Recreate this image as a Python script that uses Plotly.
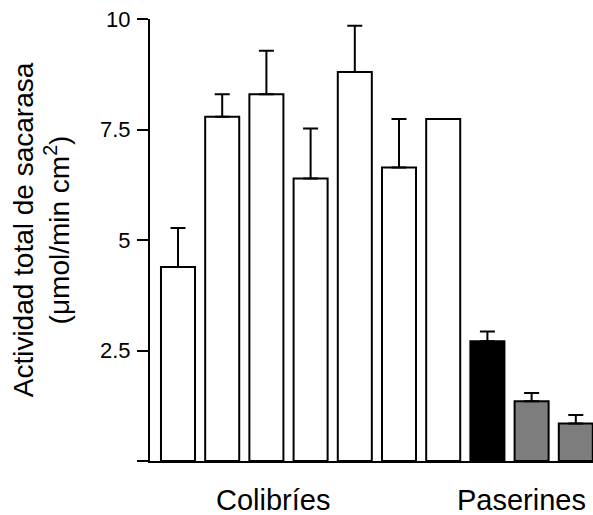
import plotly.graph_objects as go

# Data
groups = ["C1", "C2", "C3", "C4", "C5", "C6", "C7", "P1", "P2", "P3"]
values = [4.39, 7.79, 8.30, 6.39, 8.80, 6.64, 7.74, 2.71, 1.35, 0.85]
errors = [0.88, 0.51, 0.98, 1.13, 1.05, 1.10, None, 0.22, 0.19, 0.19]
fills = ["white"] * 7 + ["black", "#7d7d7d", "#7d7d7d"]
ytick_vals = [0, 2.5, 5, 7.5, 10]
ytick_text = ["", "2.5", "5", "7.5", "10"]
group_labels = ["Colibríes", "Paserines"]
group_centers = [2.15, 7.77]

FONT = "Liberation Sans, Arial, Helvetica, sans-serif"
xs = list(range(len(values)))

fig = go.Figure()
fig.add_trace(go.Bar(
    x=xs, y=values, width=0.77,
    marker=dict(color=fills, line=dict(color="black", width=2)),
    error_y=dict(type="data", symmetric=False,
                 array=[e if e is not None else 0 for e in errors],
                 arrayminus=[0] * len(values),
                 visible=True, color="black", thickness=2, width=7.5),
    showlegend=False,
))

for lab, cx in zip(group_labels, group_centers):
    fig.add_annotation(x=cx, xref="x", y=-0.088, yref="paper", yanchor="middle",
                       text=lab, showarrow=False,
                       font=dict(family=FONT, size=29, color="black"))

fig.add_annotation(x=-0.246, xref="paper", y=0.522, yref="paper",
                   xanchor="center", yanchor="middle",
                   text="Actividad total de sacarasa<br>(μmol/min cm<sup>2</sup>)",
                   showarrow=False, textangle=-90,
                   font=dict(family=FONT, size=28, color="black"))

fig.update_layout(
    width=593, height=515,
    margin=dict(l=150, r=0, t=19, b=54),
    plot_bgcolor="white", paper_bgcolor="white",
    xaxis=dict(range=[-0.6335, 9.389], showticklabels=False, ticks="",
               showline=True, linewidth=2, linecolor="black",
               showgrid=False, zeroline=False),
    yaxis=dict(range=[0, 10], tickvals=ytick_vals, ticktext=ytick_text,
               ticks="outside", ticklen=11, tickwidth=2, tickcolor="black",
               showline=True, linewidth=2, linecolor="black",
               showgrid=False, zeroline=False, ticklabelstandoff=2,
               tickfont=dict(family=FONT, size=22, color="black")),
    bargap=0.23,
)

fig.write_html("out.html")
